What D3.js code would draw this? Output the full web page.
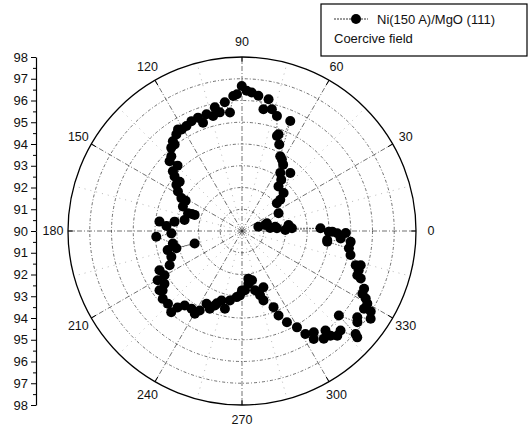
<!DOCTYPE html>
<html><head><meta charset="utf-8">
<script src="https://cdn.jsdelivr.net/npm/d3@7"></script>
<style>body{margin:0;background:#fff} svg{display:block} text{font-family:"Liberation Sans",Arial,sans-serif;fill:#111}</style>
</head><body><svg id="c" width="529" height="431"></svg>
<script>
// angle (deg) and coercive field value
const angles = [1.3,2.0,3.1,4.4,6.1,7.4,7.4,14.6,14.8,17.3,26.0,38.6,39.2,42.4,50.2,50.7,52.6,56.6,58.2,60.8,62.9,66.3,66.7,69.3,69.8,73.1,76.2,78.6,80.0,83.1,86.0,88.1,90.1,92.1,93.7,95.8,97.6,100.6,102.4,104.1,106.9,109.8,111.2,114.7,117.9,120.7,122.2,124.2,127.6,127.9,130.4,133.4,134.6,136.1,139.2,141.0,141.7,144.8,148.3,151.5,151.8,157.5,161.2,161.2,161.8,169.1,172.1,173.5,176.2,181.9,183.8,190.2,194.4,194.7,194.8,200.1,205.3,205.4,209.7,210.3,214.2,215.7,216.8,220.5,224.5,228.9,229.9,232.4,237.0,240.3,242.0,244.0,247.5,250.0,250.9,253.6,257.6,260.1,265.4,268.2,270.0,272.9,276.9,277.6,281.5,282.4,285.7,287.2,290.8,292.5,293.4,296.2,299.7,301.6,303.6,305.3,307.2,310.0,310.2,312.3,314.7,317.3,317.8,318.9,321.7,323.2,325.7,327.5,328.0,329.9,331.4,332.5,334.7,338.2,339.0,341.4,343.3,343.9,347.5,350.8,352.8,353.9,354.3,355.7,358.6,358.9,359.5,359.6];
const values = [91.99,93.61,92.30,91.61,91.30,91.54,92.16,91.10,90.78,91.20,91.87,92.05,92.27,92.59,93.47,92.65,92.97,93.20,93.59,93.76,93.86,95.52,94.33,94.75,94.65,95.53,95.76,96.18,95.68,96.26,96.38,96.45,96.67,96.29,96.22,95.48,95.97,95.55,95.82,95.45,95.61,95.29,95.59,95.56,95.46,95.43,95.52,95.37,95.21,95.04,95.02,94.73,94.22,94.62,94.20,93.99,93.65,93.69,93.46,93.17,92.94,92.94,92.30,92.44,92.61,92.69,93.13,93.82,93.48,93.25,93.95,93.23,93.53,92.25,93.12,93.46,93.68,94.20,94.10,94.49,94.31,94.67,94.56,94.79,94.77,94.95,94.60,94.32,94.26,94.38,94.14,93.72,93.87,93.64,93.52,93.33,93.66,93.24,93.05,92.96,92.73,92.73,92.44,92.21,92.31,92.79,93.07,93.34,92.77,93.79,94.23,94.68,95.10,95.56,95.96,95.71,96.22,95.97,96.30,96.51,96.44,97.21,97.05,95.91,96.76,96.62,97.16,96.65,96.98,96.66,96.48,96.24,96.21,95.88,95.68,95.66,95.46,95.68,95.11,94.98,93.95,93.94,95.02,94.55,94.38,94.77,93.99,94.15];
const angleTicks = [0,30,60,90,120,150,180,210,240,270,300,330];
const radialTicks = [90,91,92,93,94,95,96,97,98];
const seriesName = "Ni(150 A)/MgO (111)";
const legendSub = "Coercive field";

const svg = d3.select("#c");
const cx = 242, cy = 231, R = 174;
const r = d3.scaleLinear().domain([90, 98]).range([0, R]);
const a = d3.scaleLinear().domain([0, 360]).range([0, 2 * Math.PI]);
const px = (t, v) => cx + r(v) * Math.cos(a(t));
const py = (t, v) => cy - r(v) * Math.sin(a(t));

const g = svg.append("g");
// minor spokes
g.selectAll(".ms").data(angleTicks).join("line")
  .attr("x1", cx).attr("y1", cy)
  .attr("x2", d => px(d + 15, 98)).attr("y2", d => py(d + 15, 98))
  .attr("stroke", "#999").attr("stroke-width", 0.7).attr("stroke-dasharray", "1,5");
// rings
g.selectAll(".ring").data(radialTicks.slice(1, -1)).join("circle")
  .attr("cx", cx).attr("cy", cy).attr("r", d => r(d))
  .attr("fill", "none").attr("stroke", "#333").attr("stroke-width", 0.7)
  .attr("stroke-dasharray", "3,2,1,2");
// spokes
g.selectAll(".sp").data(angleTicks).join("line")
  .attr("x1", cx).attr("y1", cy)
  .attr("x2", d => px(d, 98)).attr("y2", d => py(d, 98))
  .attr("stroke", "#333").attr("stroke-width", 0.7).attr("stroke-dasharray", "5,2,1,2");
// outer circle
g.append("circle").attr("cx", cx).attr("cy", cy).attr("r", r(98))
  .attr("fill", "none").attr("stroke", "#000").attr("stroke-width", 1.3);
// outer ticks
g.selectAll(".ot").data(angleTicks).join("line")
  .attr("x1", d => px(d, 98)).attr("y1", d => py(d, 98))
  .attr("x2", d => px(d, 97.75)).attr("y2", d => py(d, 97.75))
  .attr("stroke", "#000").attr("stroke-width", 1);
// angle labels
g.selectAll(".al").data(angleTicks).join("text")
  .attr("x", d => cx + (R + 15) * Math.cos(a(d)))
  .attr("y", d => cy - (R + 15) * Math.sin(a(d)))
  .attr("text-anchor", "middle").attr("dominant-baseline", "central")
  .attr("font-size", 12.5).text(d => d);

// radial axis on left
const ax = 36;
const yTop = d3.scaleLinear().domain([90, 98]).range([cy, cy - R]);
const yBot = d3.scaleLinear().domain([90, 98]).range([cy, cy + R]);
const halfTicks = d3.range(90.5, 98, 1);
[yTop, yBot].forEach((sc, i) => {
  const major = svg.append("g").attr("transform", `translate(${ax},0)`)
    .call(d3.axisLeft(sc).tickValues(i === 0 ? radialTicks : radialTicks.slice(1))
      .tickSize(5).tickSizeOuter(0).tickPadding(3).tickFormat(d3.format("d")));
  major.select(".domain").attr("stroke", "#000").attr("stroke-width", 1.2);
  major.selectAll("text").attr("font-size", 13).attr("fill", "#111")
    .style("font-family", '"Liberation Sans",Arial,sans-serif');
  const minor = svg.append("g").attr("transform", `translate(${ax},0)`)
    .call(d3.axisLeft(sc).tickValues(halfTicks).tickSize(3).tickSizeOuter(0).tickFormat(""));
  minor.select(".domain").remove();
});

// data
const pts = angles.map((t, i) => ({t, v: values[i]})).sort((p, q) => p.t - q.t);
svg.append("path").datum(pts)
  .attr("d", d3.line().x(d => px(d.t, d.v)).y(d => py(d.t, d.v)))
  .attr("fill", "none").attr("stroke", "#000").attr("stroke-width", 0.6)
  .attr("stroke-dasharray", "1.5,1.5");
svg.selectAll(".pt").data(pts).join("circle")
  .attr("cx", d => px(d.t, d.v)).attr("cy", d => py(d.t, d.v))
  .attr("r", 5).attr("fill", "#000");

// legend
const lg = svg.append("g");
lg.append("rect").attr("x", 321).attr("y", 4).attr("width", 206).attr("height", 52)
  .attr("fill", "#fff").attr("stroke", "#000").attr("stroke-width", 1.2);
lg.append("line").attr("x1", 334).attr("x2", 368).attr("y1", 19).attr("y2", 19)
  .attr("stroke", "#000").attr("stroke-width", 0.8).attr("stroke-dasharray", "2,1");
lg.append("circle").attr("cx", 356).attr("cy", 19).attr("r", 5).attr("fill", "#000");
lg.append("text").attr("x", 377).attr("y", 19).attr("dominant-baseline", "central")
  .attr("font-size", 13).text(seriesName);
lg.append("text").attr("x", 334).attr("y", 38).attr("dominant-baseline", "central")
  .attr("font-size", 13).text(legendSub);
</script></body></html>
